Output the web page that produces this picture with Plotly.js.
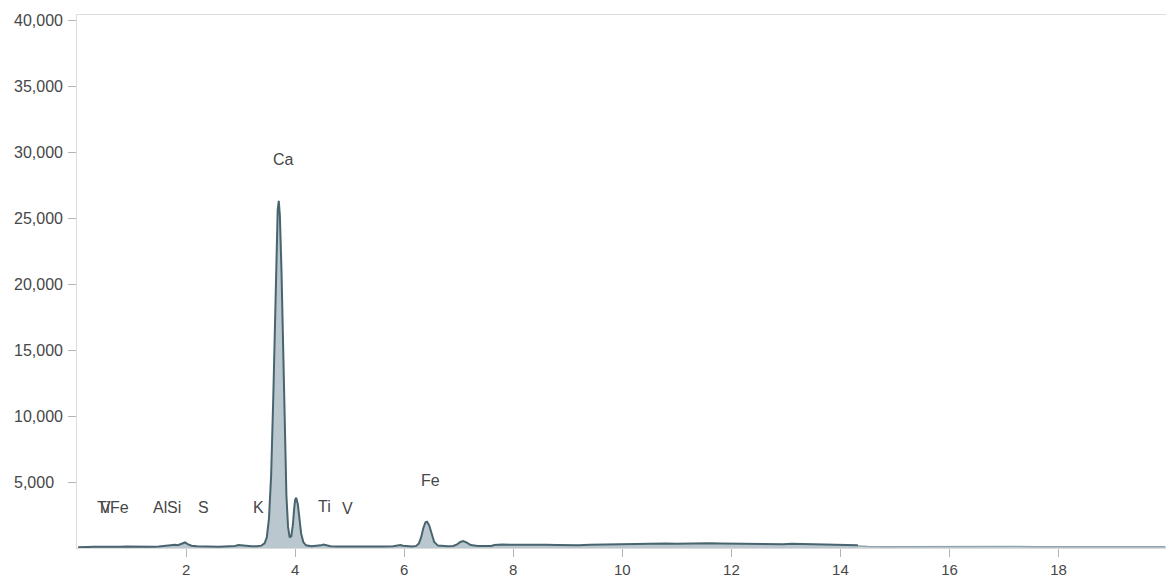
<!DOCTYPE html>
<html>
<head>
<meta charset="utf-8">
<script src="https://cdn.plot.ly/plotly-3.0.1.min.js"></script>
<style>html,body{margin:0;padding:0;background:#fff;}#chart{width:1166px;height:577px;}</style>
</head>
<body>
<div id="chart"></div>
<script>
// Spectrum (energy in keV, counts)
var energy = [0.02,0.1,0.2,0.3,0.4,0.5,0.6,0.7,0.8,0.9,1.0,1.1,1.2,1.3,1.4,1.5,1.6,1.65,1.7,1.75,1.8,1.85,1.9,1.94,1.98,2.03,2.1,2.2,2.3,2.4,2.5,2.6,2.7,2.8,2.9,2.96,3.02,3.1,3.2,3.3,3.38,3.44,3.48,3.52,3.56,3.6,3.63,3.66,3.68,3.7,3.72,3.75,3.78,3.81,3.84,3.87,3.9,3.93,3.96,3.98,4.0,4.02,4.05,4.08,4.11,4.15,4.2,4.3,4.4,4.47,4.52,4.57,4.65,4.8,5.0,5.2,5.4,5.6,5.8,5.88,5.93,5.98,6.05,6.15,6.22,6.27,6.31,6.35,6.39,6.42,6.46,6.5,6.55,6.62,6.7,6.8,6.9,6.97,7.03,7.08,7.14,7.22,7.35,7.5,7.6,7.65,7.7,7.8,8.0,8.2,8.4,8.6,8.8,9.0,9.2,9.4,9.6,9.8,10.0,10.2,10.4,10.6,10.8,11.0,11.2,11.4,11.6,11.8,12.0,12.2,12.4,12.6,12.8,12.95,13.1,13.3,13.5,13.7,13.9,14.1,14.25,14.32];
var counts = [60,90,80,100,90,110,90,100,90,110,100,90,100,110,100,110,150,180,210,200,240,210,280,380,420,300,170,130,110,100,110,100,120,140,160,230,200,140,130,140,180,350,800,2200,5500,11500,17000,22500,25600,26300,25200,21000,15000,8500,4000,1600,800,900,1800,2900,3650,3800,3300,2200,1100,450,200,130,140,200,260,220,130,110,100,110,100,110,130,190,230,170,130,120,160,350,800,1500,1950,1990,1700,1100,450,180,140,130,160,280,460,530,420,220,150,140,160,230,250,260,250,260,250,240,220,200,210,240,260,280,300,320,330,310,340,330,350,340,360,350,330,300,290,290,280,280,330,310,260,240,230,220,210,200,180];
// High-energy tail (lighter trace)
var tailEnergy = [14.32,14.5,14.8,15.2,15.6,16.0,16.4,16.8,17.2,17.6,18.0,18.4,18.8,19.2,19.6,19.96];
var tailCounts = [150,110,100,110,100,105,100,110,105,100,110,100,95,105,100,100];

// Element line labels
var labelText = ["Ti","V","Fe","Al","Si","S","K","Ca","Ti","V","Fe"];
var labelEnergy = [0.452,0.511,0.705,1.486,1.740,2.307,3.313,3.691,4.510,4.952,6.400];
var labelCounts = [3050,3050,3050,3050,3050,3050,3050,29400,3150,3000,5080];

// Axis ticks
var xTickVals = [2,4,6,8,10,12,14,16,18];
var yTickVals = [5000,10000,15000,20000,25000,30000,35000,40000];
var yTickText = ["5,000","10,000","15,000","20,000","25,000","30,000","35,000","40,000"];

var textColor = "#474747";
var fontFam = "Liberation Sans, Arial, Helvetica, sans-serif";

var traces = [
  {x: tailEnergy, y: tailCounts, type: "scatter", mode: "lines", fill: "tozeroy",
   fillcolor: "rgba(150,170,182,0.45)", line: {color: "#8fa4b0", width: 1.5}, hoverinfo: "skip"},
  {x: energy, y: counts, type: "scatter", mode: "lines", fill: "tozeroy",
   fillcolor: "rgba(140,162,175,0.6)", line: {color: "#48646f", width: 2}, hoverinfo: "skip"}
];

var annotations = [];
for (var i = 0; i < labelText.length; i++) {
  annotations.push({x: labelEnergy[i], y: labelCounts[i], xref: "x", yref: "y", text: labelText[i],
    showarrow: false, xanchor: "left", yanchor: "middle", xshift: -7,
    font: {family: fontFam, size: 16, color: textColor}});
}
for (var j = 0; j < yTickVals.length; j++) {
  annotations.push({x: -0.0597, y: yTickVals[j], xref: "paper", yref: "y", text: yTickText[j],
    showarrow: false, xanchor: "left", yanchor: "middle",
    font: {family: fontFam, size: 16, color: textColor}});
}

var layout = {
  width: 1166, height: 577,
  margin: {l: 77, r: 0, t: 15, b: 29},
  paper_bgcolor: "#fff", plot_bgcolor: "#fff",
  showlegend: false,
  font: {family: fontFam, size: 15, color: textColor},
  xaxis: {range: [0, 19.97], tickvals: xTickVals, ticktext: xTickVals.map(String),
    ticks: "outside", ticklen: 8, tickcolor: "#b5b5b5", tickwidth: 1,
    showgrid: false, zeroline: false, showline: true, mirror: true, linecolor: "#dcdcdc", linewidth: 1,
    tickfont: {family: fontFam, size: 15, color: textColor}, ticklabelstandoff: 0, fixedrange: true},
  yaxis: {range: [0, 40380], tickvals: yTickVals, showticklabels: false,
    ticks: "outside", ticklen: 8, tickcolor: "#b5b5b5", tickwidth: 1,
    showgrid: false, zeroline: false, showline: true, linecolor: "#dcdcdc", linewidth: 1, fixedrange: true},
  annotations: annotations
};

Plotly.newPlot("chart", traces, layout, {displayModeBar: false, staticPlot: true});
</script>
</body>
</html>
